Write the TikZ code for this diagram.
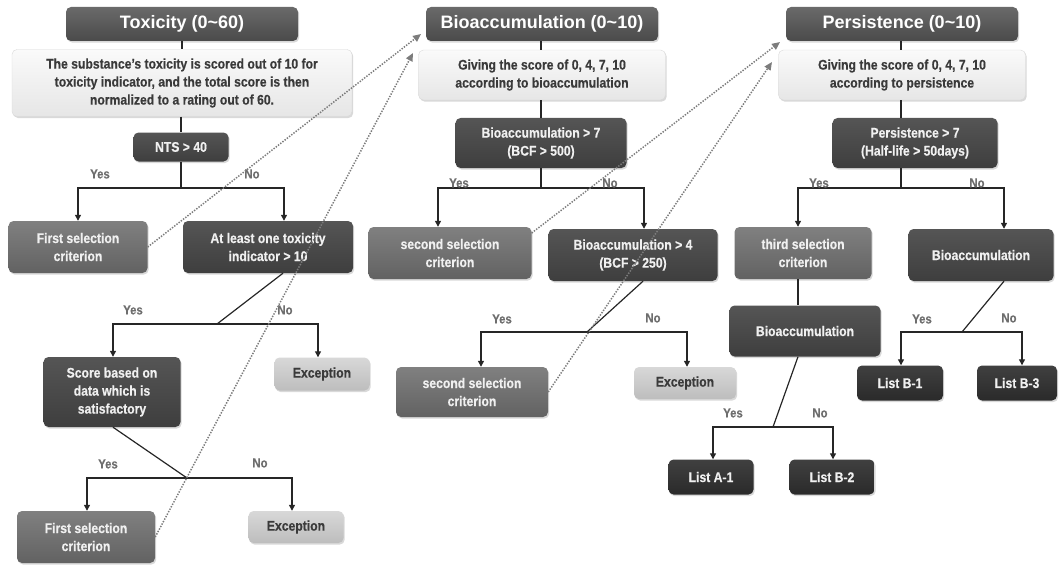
\documentclass[tikz,border=0pt]{standalone}
\usepackage{fontspec}
\setmainfont{Liberation Sans}
\newfontfamily\nar{Liberation Sans}[FakeStretch=0.87,FakeBold=0.35]
\usetikzlibrary{arrows.meta,shadows,calc}
\definecolor{hdtop}{HTML}{6A6A6A}
\definecolor{hdbot}{HTML}{4A4A4A}
\definecolor{dectop}{HTML}{555555}
\definecolor{decbot}{HTML}{3E3E3E}
\definecolor{seltop}{HTML}{808080}
\definecolor{selbot}{HTML}{626262}
\definecolor{exctop}{HTML}{D8D8D8}
\definecolor{excbot}{HTML}{BDBDBD}
\definecolor{listtop}{HTML}{404040}
\definecolor{listbot}{HTML}{2A2A2A}
\definecolor{desctop}{HTML}{FAFAFA}
\definecolor{descbot}{HTML}{E6E6E6}
\definecolor{darktext}{HTML}{3A3A3A}
\definecolor{lbl}{HTML}{6E6E6E}
\definecolor{dotc}{HTML}{7C7C7C}
\begin{document}
\begin{tikzpicture}[x=1pt,y=-1pt,
  base/.style={rounded corners=5pt, align=center, inner sep=2pt,
    font=\nar\bfseries\fontsize{14}{18}\selectfont,
    drop shadow={opacity=0.3,shadow xshift=1.2pt,shadow yshift=-1.6pt}},
  hdr/.style={base, top color=hdtop, bottom color=hdbot, text=white,
    font=\bfseries\fontsize{18}{22}\selectfont, minimum width=232pt, minimum height=34pt},
  desc/.style={base, top color=desctop, bottom color=descbot, draw=black!15, text=darktext},
  dec/.style={base, top color=dectop, bottom color=decbot, text=white!94!black},
  sel/.style={base, top color=seltop, bottom color=selbot, text=white!94!black},
  exc/.style={base, top color=exctop, bottom color=excbot, text=darktext},
  lst/.style={base, top color=listtop, bottom color=listbot, text=white!94!black},
  conn/.style={line width=1.2pt, black!85},
  arr/.style={conn, -{Triangle[length=6pt,width=6pt]}},
  dots/.style={dotc, line width=1.5pt, dash pattern=on 1.4pt off 1.4pt, -{Triangle[length=8pt,width=7pt]}},
  yn/.style={text=lbl, font=\nar\bfseries\fontsize{13}{15}\selectfont}
]
\useasboundingbox (0,0) rectangle (1059,567);

% ---------- headers ----------
\node[hdr] (toxh) at (182,24) {Toxicity (0\textasciitilde 60)};
\node[hdr] (bioh) at (542,24) {Bioaccumulation (0\textasciitilde 10)};
\node[hdr] (perh) at (902,24) {Persistence (0\textasciitilde 10)};

% ---------- descriptions ----------
\node[desc, minimum width=340pt, minimum height=67pt] (toxd) at (182,83)
  {The substance’s toxicity is scored out of 10 for\\toxicity indicator, and the total score is then\\normalized to a rating out of 60.};
\node[desc, minimum width=247pt, minimum height=50pt] (biod) at (542,75)
  {Giving the score of 0, 4, 7, 10\\according to bioaccumulation};
\node[desc, minimum width=247pt, minimum height=50pt] (perd) at (902,75)
  {Giving the score of 0, 4, 7, 10\\according to persistence};

% ---------- toxicity column ----------
\node[dec, minimum width=95pt, minimum height=29pt] (nts) at (181,147) {NTS > 40};
\node[sel, minimum width=139pt, minimum height=52pt] (fs1) at (78,247) {First selection\\criterion};
\node[dec, minimum width=170pt, minimum height=52pt] (atl) at (268,247) {At least one toxicity\\indicator > 10};
\node[dec, minimum width=137pt, minimum height=70pt] (score) at (112,392) {Score based on\\data which is\\satisfactory};
\node[exc, minimum width=95pt, minimum height=33pt] (exc1) at (322,374) {Exception};
\node[sel, minimum width=138pt, minimum height=52pt] (fs2) at (86,537) {First selection\\criterion};
\node[exc, minimum width=95pt, minimum height=32pt] (exc2) at (296,527) {Exception};

% ---------- bioaccumulation column ----------
\node[dec, minimum width=171pt, minimum height=50pt] (b7) at (541,143) {Bioaccumulation > 7\\(BCF > 500)};
\node[sel, minimum width=163pt, minimum height=52pt] (ss1) at (450,253) {second selection\\criterion};
\node[dec, minimum width=169pt, minimum height=52pt] (b4) at (633,255) {Bioaccumulation > 4\\(BCF > 250)};
\node[sel, minimum width=152pt, minimum height=50pt] (ss2) at (472,392) {second selection\\criterion};
\node[exc, minimum width=102pt, minimum height=32pt] (exc3) at (685,383) {Exception};

% ---------- persistence column ----------
\node[dec, minimum width=165pt, minimum height=50pt] (p7) at (915,143) {Persistence > 7\\(Half-life > 50days)};
\node[sel, minimum width=137pt, minimum height=52pt] (third) at (803,253) {third selection\\criterion};
\node[dec, minimum width=145pt, minimum height=52pt] (bior) at (981,255) {Bioaccumulation};
\node[dec, minimum width=151pt, minimum height=51pt] (biom) at (805,331) {Bioaccumulation};
\node[lst, minimum width=85pt, minimum height=35pt] (la1) at (711,477) {List A-1};
\node[lst, minimum width=85pt, minimum height=35pt] (lb2) at (832,477) {List B-2};
\node[lst, minimum width=86pt, minimum height=35pt] (lb1) at (900,383) {List B-1};
\node[lst, minimum width=80pt, minimum height=35pt] (lb3) at (1017,383) {List B-3};

% ---------- junction points ----------
\coordinate (j1) at (181,188);
\coordinate (j2) at (217,324);
\coordinate (j3) at (187,478);
\coordinate (j4) at (541,188);
\coordinate (j5) at (587,332);
\coordinate (j6) at (901,188);
\coordinate (j7) at (773,427);
\coordinate (j8) at (962,332);
\coordinate (tb) at ([xshift=-5pt]third.south);

% ---------- connectors ----------
\draw[conn] (toxh.south) -- (toxd.north);
\draw[conn] (toxd.south -| nts) -- (nts.north);
\draw[conn] (nts.south) -- (j1);
\draw[arr] (j1) -| (fs1.north);
\draw[arr] (j1) -| ([xshift=16pt]atl.north);
\draw[conn] ([xshift=15pt]atl.south) -- (j2);
\draw[arr] (j2) -| ([xshift=1pt]score.north);
\draw[arr] (j2) -| ([xshift=-4pt]exc1.north);
\draw[conn] ([xshift=1pt]score.south) -- (j3);
\draw[arr] (j3) -| ([xshift=1pt]fs2.north);
\draw[arr] (j3) -| ([xshift=-4pt]exc2.north);

\draw[conn] (bioh.south -| b7) -- (biod.north -| b7);
\draw[conn] (biod.south -| b7) -- (b7.north);
\draw[conn] (b7.south) -- (j4);
\draw[arr] (j4) -| ([xshift=-12pt]ss1.north);
\draw[arr] (j4) -| ([xshift=11pt]b4.north);
\draw[conn] ([xshift=10pt]b4.south) -- (j5);
\draw[arr] (j5) -| ([xshift=9pt]ss2.north);
\draw[arr] (j5) -| ([xshift=2pt]exc3.north);

\draw[conn] (perh.south -| j6) -- (perd.north -| j6);
\draw[conn] (perd.south -| j6) -- (p7.north -| j6);
\draw[conn] (p7.south -| j6) -- (j6);
\draw[arr] (j6) -| ([xshift=-5pt]third.north);
\draw[arr] (j6) -| ([xshift=23pt]bior.north);
\draw[conn] (tb) -- (tb |- biom.north);
\draw[conn] ([xshift=-7pt]biom.south) -- (j7);
\draw[arr] (j7) -| ([xshift=2pt]la1.north);
\draw[arr] (j7) -| ([xshift=1pt]lb2.north);
\draw[conn] ([xshift=23pt]bior.south) -- (j8);
\draw[arr] (j8) -| ([xshift=1pt]lb1.north);
\draw[arr] (j8) -| ([xshift=5pt]lb3.north);

% ---------- Yes / No labels ----------
\node[yn] (y1) at (100,174) {Yes};  \node[yn] (n1) at (252,174) {No};
\node[yn] (y2) at (133,310) {Yes};  \node[yn] (n2) at (285,310) {No};
\node[yn] (y3) at (108,464) {Yes};  \node[yn] (n3) at (260,463) {No};
\node[yn] (y4) at (459,183) {Yes};  \node[yn] (n4) at (610,183) {No};
\node[yn] (y5) at (502,319) {Yes};  \node[yn] (n5) at (653,318) {No};
\node[yn] (y6) at (819,183) {Yes};  \node[yn] (n6) at (977,183) {No};
\node[yn] (y7) at (733,413) {Yes};  \node[yn] (n7) at (820,413) {No};
\node[yn] (y8) at (922,319) {Yes};  \node[yn] (n8) at (1009,318) {No};

% ---------- dotted cross-links ----------
\coordinate (t1) at (421,34);
\coordinate (t2) at (413,53);
\coordinate (t3) at (780,42);
\coordinate (t4) at (772,62);
\coordinate (s3) at ([yshift=20pt]ss1.east);
\draw[dots] (fs1.east) -- (t1);
\draw[dots] (fs2.east) -- (t2);
\draw[dots] (s3) -- (t3);
\draw[dots] (ss2.east) -- (t4);
\end{tikzpicture}
\end{document}
